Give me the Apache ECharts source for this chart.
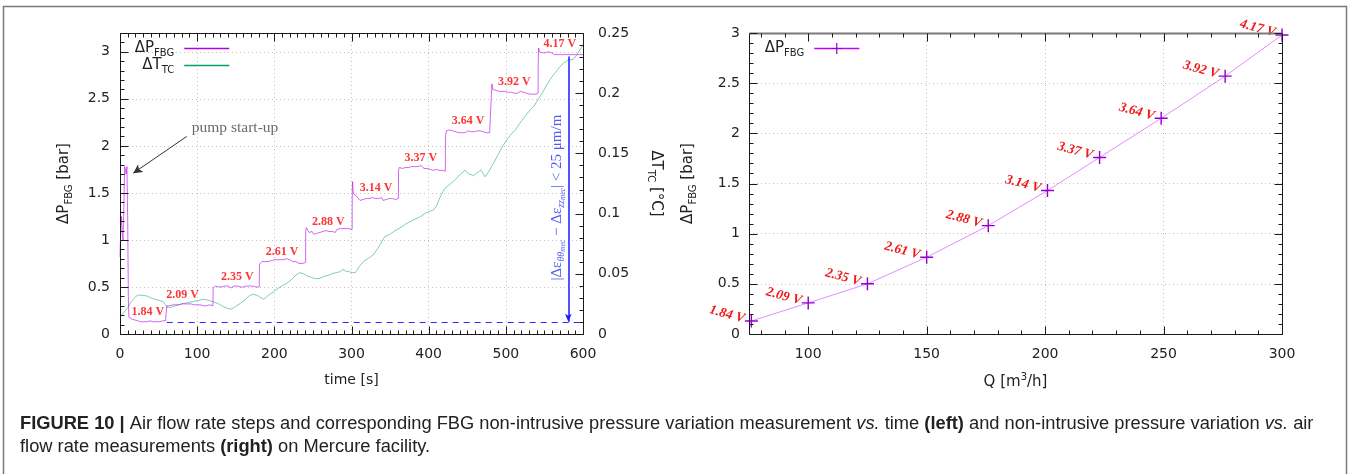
<!DOCTYPE html>
<html><head><meta charset="utf-8">
<script src="https://cdn.jsdelivr.net/npm/echarts@6/dist/echarts.min.js"></script>
<style>html,body{margin:0;padding:0;background:#fff}#c{width:1351px;height:474px}</style>
</head><body><div id="c"></div><script>
// ---------- DATA ----------
const pFbg = [
[0,0.82],[1,1.15],[2,1.25],[3,1.05],[4,1.0],[5,1.35],[6,1.78],[7,1.80],[8,1.70],[9,1.78],[10,1.2],[10.8,0.4],[11.5,0.18],[13,0.17],[15,0.16],[17,0.16],[19,0.15],[21,0.15],[23,0.14],[25,0.15],[27,0.13],[29,0.14],[31,0.13],[33,0.12],[35,0.13],[37,0.12],[39,0.14],[41,0.13],[43,0.13],[45,0.14],[47,0.13],[49,0.14],[51,0.13],[53,0.14],[55,0.14],[57,0.14],[59,0.14],[60.5,0.14],
[60.7,0.30],[62,0.31],[64,0.30],[66,0.32],[68,0.31],[70,0.32],[72,0.31],[74,0.32],[76,0.31],[78,0.33],[80,0.32],[82,0.33],[84,0.32],[86,0.33],[88,0.32],[90,0.34],[92,0.32],[94,0.33],[96,0.31],[98,0.32],[100,0.31],[102,0.32],[104,0.31],[106,0.31],[108,0.30],[110,0.31],[112,0.30],[114,0.30],[116,0.31],[118,0.30],[120.5,0.30],
[120.7,0.49],[122,0.50],[124,0.51],[126,0.50],[128,0.50],[130,0.51],[132,0.50],[134,0.50],[136,0.51],[138,0.50],[140,0.51],[142,0.50],[144,0.49],[146,0.50],[148,0.51],[150,0.50],[152,0.51],[154,0.50],[156,0.50],[158,0.51],[160,0.50],[162,0.52],[164,0.51],[166,0.50],[168,0.51],[170,0.50],[172,0.51],[174,0.50],[176,0.50],[178,0.51],[180.5,0.50],
[180.7,0.74],[182,0.76],[184,0.77],[186,0.78],[188,0.77],[190,0.78],[192,0.77],[194,0.79],[196,0.78],[198,0.77],[200,0.79],[202,0.78],[204,0.79],[206,0.78],[208,0.79],[210,0.78],[212,0.79],[214,0.78],[216,0.80],[218,0.81],[220,0.79],[222,0.78],[224,0.77],[226,0.76],[228,0.77],[230,0.76],[232,0.75],[234,0.76],[236,0.75],[238,0.76],[240.5,0.76],
[240.7,1.10],[241.5,1.13],[243,1.12],[245,1.08],[247,1.07],[249,1.09],[251,1.06],[253,1.08],[255,1.07],[257,1.09],[259,1.08],[261,1.07],[263,1.09],[265,1.08],[267,1.10],[269,1.08],[271,1.09],[273,1.10],[275,1.09],[277,1.10],[279,1.08],[281,1.11],[283,1.10],[285,1.12],[287,1.10],[289,1.12],[291,1.11],[293,1.12],[295,1.11],[297,1.12],[299,1.11],[300.8,1.11],
[301,1.55],[301.5,1.62],[302,1.52],[303,1.49],[305,1.47],[307,1.46],[309,1.44],[311,1.42],[313,1.41],[315,1.43],[317,1.42],[319,1.44],[321,1.42],[323,1.44],[325,1.43],[327,1.45],[329,1.43],[331,1.44],[333,1.42],[335,1.44],[337,1.43],[339,1.45],[341,1.42],[343,1.44],[345,1.43],[347,1.45],[349,1.44],[351,1.46],[353,1.44],[355,1.45],[357,1.43],[359,1.44],[360.8,1.44],
[361,1.74],[362,1.77],[364,1.78],[366,1.76],[368,1.78],[370,1.77],[372,1.78],[374,1.77],[376,1.79],[378,1.78],[380,1.79],[382,1.78],[384,1.79],[386,1.78],[388,1.80],[390,1.79],[392,1.77],[394,1.76],[396,1.78],[398,1.76],[400,1.74],[402,1.75],[404,1.73],[406,1.74],[408,1.73],[410,1.75],[412,1.73],[414,1.74],[416,1.73],[418,1.74],[420,1.73],[421.5,1.73],
[421.8,2.10],[423,2.16],[425,2.18],[427,2.17],[429,2.18],[431,2.16],[433,2.17],[435,2.15],[437,2.16],[439,2.14],[441,2.15],[443,2.14],[445,2.16],[447,2.14],[449,2.15],[451,2.16],[453,2.14],[455,2.15],[457,2.14],[459,2.15],[461,2.14],[463,2.16],[465,2.15],[467,2.16],[469,2.14],[471,2.15],[473,2.13],[475,2.14],[477,2.13],[479,2.14],[481.4,2.13],
[481.6,2.60],[482,2.66],[483,2.60],[485,2.58],[487,2.59],[489,2.57],[491,2.58],[493,2.57],[495,2.58],[497,2.57],[499,2.58],[501,2.56],[503,2.57],[505,2.58],[507,2.57],[509,2.58],[511,2.56],[513,2.57],[515,2.56],[517,2.57],[519,2.58],[521,2.56],[523,2.57],[525,2.55],[527,2.56],[529,2.57],[531,2.55],[533,2.56],[535,2.55],[537,2.56],[539,2.55],[541.8,2.56],
[542,2.90],[542.5,3.04],[543.5,3.00],[545,2.98],[547,2.99],[549,2.98],[551,2.99],[553,2.98],[555,3.00],[557,2.98],[559,2.99],[561,2.98],[563,2.97],[565,2.98],[567,2.97],[569,2.98],[571,2.97],[573,2.98],[575,2.97],[577,2.96],[579,2.97],[581,2.95],[583,2.97],[585,2.98],[587,2.97],[589,2.98],[591,2.97],[593,2.98],[595,2.97],[597,2.98],[599,2.97],[600,2.97]
];
const tTc = [
[0,0.0144],[5,0.018],[10,0.022],[15,0.027],[20,0.031],[24,0.0324],[30,0.032],[35,0.0316],[40,0.030],[45,0.0288],[50,0.028],[56,0.0268],[61,0.0222],[66,0.0222],[72,0.0235],[80,0.025],[87,0.026],[95,0.027],[102,0.028],[108,0.0288],[115,0.028],[121,0.0268],[128,0.025],[134,0.0227],[140,0.021],[145,0.0208],[150,0.023],[156,0.0255],[163,0.029],[168,0.032],[173,0.033],[178,0.032],[186,0.0288],[192,0.032],[199,0.0351],[205,0.038],[210,0.040],[216,0.042],[222,0.045],[228,0.049],[233,0.051],[238,0.050],[243,0.048],[248,0.047],[253,0.046],[259,0.0462],[265,0.048],[271,0.049],[276,0.0504],[281,0.051],[285,0.0517],[289,0.0537],[293,0.052],[297,0.0517],[301,0.051],[305,0.051],[310,0.056],[315,0.060],[322,0.063],[328,0.0656],[335,0.072],[343,0.0808],[350,0.083],[358,0.0864],[365,0.089],[372,0.092],[380,0.0947],[388,0.097],[397,0.1008],[406,0.103],[410,0.106],[415,0.114],[421,0.121],[428,0.1246],[434,0.128],[440,0.132],[447,0.136],[452,0.133],[458,0.1315],[463,0.134],[468,0.136],[473,0.1306],[478,0.135],[484,0.1418],[490,0.149],[495,0.155],[501,0.161],[507,0.166],[513,0.170],[518,0.175],[524,0.180],[530,0.185],[536,0.1888],[542,0.195],[548,0.201],[553,0.2068],[558,0.212],[564,0.217],[570,0.222],[575,0.225],[581,0.2276],[587,0.228],[591,0.231],[596,0.236],[600,0.240]
];
const stepVolts = ['1.84 V','2.09 V','2.35 V','2.61 V','2.88 V','3.14 V','3.37 V','3.64 V','3.92 V','4.17 V'];
const stepLabelTime = [36, 81, 152, 210, 270, 332, 390, 451, 511, 570];
const stepLevel = [0.13, 0.31, 0.50, 0.77, 1.09, 1.45, 1.77, 2.16, 2.57, 2.98];
const pumpArrow = [[86.4, 2.10], [17.2, 1.71]];
const pumpText = [93, 2.19];
const baseLine = [[60.5, 0.13], [600, 0.13]];
const diffArrow = [[581, 2.95], [581, 0.13]];
const diffTextPos = [566, 1.45];
const flowQ = [76, 100, 125, 150, 176, 201, 223, 249, 276, 300];
const flowDP = [0.13, 0.31, 0.50, 0.765, 1.08, 1.43, 1.76, 2.15, 2.57, 2.98];
// tick values / axis extents
const qMajorTicks = [100, 150, 200, 250, 300];
const extL = {x0:0, x1:600, y0:0, y1:3.2};
const extL2 = {x0:0, x1:600, y0:0, y1:0.25};
const extR = {x0:75, x1:300, y0:0, y1:3};

function range(a, b, s){ const o=[]; const n=Math.round((b-a)/s); for(let i=0;i<=n;i++) o.push(+(a+i*s).toFixed(6)); return o; }
const ticksL = [[0,9]];
range(0,600,10).forEach(v=>ticksL.push([v, v%100===0?0:1]));
range(0,3.2,0.1).forEach((v,i)=>ticksL.push([v, i%5===0?2:3]));
const ticksL2 = [];
range(0,0.25,0.01).forEach((v,i)=>ticksL2.push([v, i%5===0?4:5]));
const ticksR = [[0,9]];
range(80,300,10).forEach(v=>ticksR.push([v, v%50===0?0:1]));
range(0,3,0.1).forEach((v,i)=>ticksR.push([v, i%5===0?2:3]));

// ---------- STYLE ----------
const lab = () => ({color:'#222', fontFamily:'DejaVu Sans', fontSize:14});
const gridLine = () => ({type:[1,3], color:'#c4c4c4', width:1});
const richName = {
  a:{fontFamily:'DejaVu Sans', fontSize:15, color:'#222', lineHeight:20},
  s:{fontFamily:'DejaVu Sans', fontSize:10, color:'#222', lineHeight:10, verticalAlign:'bottom'},
  p:{fontFamily:'DejaVu Sans', fontSize:10, color:'#222', lineHeight:10, verticalAlign:'top'}
};
const crossPath = 'path://M0,4.45H10V5.55H0Z M4.45,0H5.55V10H4.45Z';
const noLine = {show:false};
const noTick = {show:false};

function ln(x1, y1, x2, y2, w, c){ return {type:'line', shape:{x1:x1, y1:y1, x2:x2, y2:y2}, style:{stroke:c || '#1a1a1a', lineWidth:w, fill:'none'}}; }

function tickRender(ext, opt){
  return function(params, api){
    const v = api.value(0), k = api.value(1);
    const r = a => Math.round(a) + 0.5;
    if (k === 9) {
      const p0 = api.coord([ext.x0, ext.y1]), p1 = api.coord([ext.x1, ext.y0]);
      const x0 = r(p0[0]), y0 = r(p0[1]), x1 = r(p1[0]), y1 = r(p1[1]);
      return {type:'group', children:[
        ln(x0, y1, x1, y1, 1),
        ln(x0, y0, x0, y1, 1),
        ln(x1, y0, x1, y1, 1),
        opt.grayTop ? ln(x0, y0, x1, y0, 2.2, '#7a7a7a') : ln(x0, y0, x1, y0, 1)
      ]};
    }
    const W = 1;
    const len = (k % 2 === 0) ? 8 : 4;
    const kids = [];
    if (k < 2) {
      const b = api.coord([v, ext.y0]), t = api.coord([v, ext.y1]);
      const x = r(b[0]);
      kids.push(ln(x, r(b[1]), x, r(b[1]) - len, W));
      kids.push(ln(x, r(t[1]), x, r(t[1]) + len, W));
    } else if (k < 4) {
      const p = api.coord([ext.x0, v]), q = api.coord([ext.x1, v]);
      const y = r(p[1]);
      kids.push(ln(r(p[0]), y, r(p[0]) + len, y, W));
      if (opt.mirrorY) kids.push(ln(r(q[0]), y, r(q[0]) - len, y, W));
    } else {
      const q = api.coord([ext.x1, v]);
      const y = r(q[1]);
      const l = (k === 4) ? 8 : 4;
      kids.push(ln(r(q[0]), y, r(q[0]) - l, y, W));
    }
    return {type:'group', children:kids};
  };
}
function tickSeries(name, xi, yi, data, ext, opt){
  return {name:name, type:'custom', xAxisIndex:xi, yAxisIndex:yi, data:data, clip:false, silent:true, z:6,
    encode:{x:0, y:1}, renderItem:tickRender(ext, opt)};
}

const legendBase = {align:'right', itemWidth:45, itemHeight:14, padding:0, selectedMode:false,
  textStyle:{rich:richName, padding:[0,5,0,0]}, lineStyle:{opacity:1, width:1.5}};
const capFont = 'Liberation Sans', capSize = 18.3;

const chart = echarts.init(document.getElementById('c'), null, {renderer:'canvas'});
chart.setOption({
  animation:false,
  grid:[{left:120, right:768, top:33, bottom:140}, {left:749, right:69, top:33, bottom:140}],
  legend:[
    Object.assign({data:['pL'], right:1121, top:41, formatter:()=>'{a|ΔP}{s|FBG}', itemStyle:{opacity:0}}, legendBase),
    Object.assign({data:['tL'], right:1121, top:58, formatter:()=>'{a|ΔT}{s|TC}', itemStyle:{opacity:0}}, legendBase),
    Object.assign({data:['pR'], right:491, top:41, formatter:()=>'{a|ΔP}{s|FBG}'}, legendBase)
  ],
  xAxis:[
    {type:'value', gridIndex:0, position:'bottom', min:extL.x0, max:extL.x1, interval:100, axisLine:noLine, axisTick:noTick,
      axisLabel:Object.assign({show:true, margin:13}, lab()), splitLine:{show:true, showMinLine:false, showMaxLine:false, lineStyle:gridLine()},
      name:'time [s]', nameLocation:'middle', nameGap:39, nameTextStyle:lab()},
    {type:'value', gridIndex:1, position:'bottom', min:extR.x0, max:extR.x1, axisLine:noLine, axisTick:{show:false, customValues:qMajorTicks},
      axisLabel:Object.assign({show:true, margin:13, customValues:qMajorTicks}, lab()), splitLine:{show:true, showMinLine:false, showMaxLine:false, lineStyle:gridLine()},
      name:'{a|Q [m}{p|3}{a|/h]}', nameLocation:'middle', nameGap:38, nameTextStyle:{rich:richName}}
  ],
  yAxis:[
    {type:'value', gridIndex:0, position:'left', min:extL.y0, max:extL.y1, interval:0.5, axisLine:noLine, axisTick:noTick,
      axisLabel:Object.assign({show:true, margin:10, showMaxLabel:false}, lab()),
      splitLine:{show:true, showMinLine:false, showMaxLine:false, lineStyle:gridLine()},
      name:'{a|ΔP}{s|FBG}{a| [bar]}', nameLocation:'middle', nameGap:46, nameRotate:90, nameTextStyle:{rich:richName}},
    {type:'value', gridIndex:0, position:'right', min:extL2.y0, max:extL2.y1, interval:0.05, axisLine:noLine, axisTick:noTick,
      axisLabel:Object.assign({show:true, margin:15}, lab()), splitLine:{show:false},
      name:'{a|ΔT}{s|TC}{a| [°C]}', nameLocation:'middle', nameGap:63, nameRotate:-90, nameTextStyle:{rich:richName}},
    {type:'value', gridIndex:1, position:'left', min:extR.y0, max:extR.y1, interval:0.5, axisLine:noLine, axisTick:noTick,
      axisLabel:Object.assign({show:true, margin:9}, lab()), splitLine:{show:true, showMinLine:false, showMaxLine:false, lineStyle:gridLine()},
      name:'{a|ΔP}{s|FBG}{a| [bar]}', nameLocation:'middle', nameGap:51, nameRotate:90, nameTextStyle:{rich:richName}}
  ],
  series:[
    {name:'pL', type:'line', xAxisIndex:0, yAxisIndex:0, data:pFbg, symbol:'none', showSymbol:false, color:'#b400e6',
      lineStyle:{color:'#b400e6', width:1, opacity:0.6}, z:3,
      markLine:{silent:true, animation:false, label:{show:false}, symbol:['none','none'],
        data:[
          [{coord:pumpArrow[0], symbol:'none', lineStyle:{color:'#333', width:1, type:'solid', opacity:1}}, {coord:pumpArrow[1], symbol:'arrow', symbolSize:[7,9]}],
          [{coord:baseLine[0], symbol:'none', lineStyle:{color:'#2a2aff', width:1.2, type:[6,5], opacity:1}}, {coord:baseLine[1], symbol:'none'}],
          [{coord:diffArrow[0], symbol:'none', lineStyle:{color:'#1a1aff', width:1.5, type:'solid', opacity:1}}, {coord:diffArrow[1], symbol:'arrow', symbolSize:[5,8]}]
        ]}},
    {name:'tL', type:'line', xAxisIndex:0, yAxisIndex:1, data:tTc, symbol:'none', showSymbol:false, color:'#009e73',
      lineStyle:{color:'#009e73', width:1, opacity:0.5}, z:2},
    {name:'stepLabels', type:'scatter', xAxisIndex:0, yAxisIndex:0, symbolSize:0, z:5,
      data:stepLabelTime.map((t,i)=>[t, stepLevel[i]]),
      label:{show:true, position:'top', distance:4, formatter:p=>stepVolts[p.dataIndex], color:'#f00', fontFamily:'Liberation Serif', fontWeight:'bold', fontSize:12}},
    {name:'pumpNote', type:'scatter', xAxisIndex:0, yAxisIndex:0, symbolSize:0, z:5, data:[pumpText],
      label:{show:true, position:'right', distance:0, formatter:'pump start-up', color:'#444', fontFamily:'Liberation Serif', fontSize:15.5}},
    {name:'diffNote', type:'scatter', xAxisIndex:0, yAxisIndex:0, symbolSize:0, z:5, data:[diffTextPos],
      label:{show:true, position:'inside', rotate:90,
        formatter:'{m||Δε}{s|θθ}{t|mec}{m| − Δε}{s|zz}{t|mec}{m|| < 25 μm/m}',
        rich:{
          m:{fontFamily:'Liberation Serif', fontSize:15, color:'#2233ee', lineHeight:20},
          s:{fontFamily:'Liberation Serif', fontStyle:'italic', fontSize:10, color:'#2233ee', lineHeight:10, verticalAlign:'bottom'},
          t:{fontFamily:'Liberation Serif', fontStyle:'italic', fontSize:7.5, color:'#2233ee', lineHeight:4, verticalAlign:'bottom'}
        }}},
    {name:'pR', type:'line', xAxisIndex:1, yAxisIndex:2, data:flowQ.map((q,i)=>[q, flowDP[i]]),
      symbol:crossPath, symbolSize:13, showSymbol:true, color:'#9400d3',
      itemStyle:{color:'#9400d3'}, lineStyle:{color:'#c000ff', width:1, opacity:0.45}, z:4,
      label:{show:true, position:'left', distance:1, offset:[0,-2], rotate:-15, formatter:p=>stepVolts[p.dataIndex],
        color:'#f01818', fontFamily:'Liberation Serif', fontStyle:'italic', fontWeight:'bold', fontSize:13.5}},
    tickSeries('ticksL', 0, 0, ticksL, extL, {mirrorY:false}),
    tickSeries('ticksL2', 0, 1, ticksL2, extL2, {}),
    tickSeries('ticksR', 1, 2, ticksR, extR, {mirrorY:true, grayTop:true})
  ],
  graphic:[
    {type:'rect', shape:{x:3.5, y:6.5, width:1343, height:520}, style:{fill:'none', stroke:'#7a7a7a', lineWidth:1.5}, silent:true, z:-1},
    {type:'text', x:20, y:424, style:{text:'{b|FIGURE 10 | }{n|Air flow rate steps and corresponding FBG non-intrusive pressure variation measurement }{i|vs.}{n| time }{b|(left)}{n| and non-intrusive pressure variation }{i|vs.}{n| air}',
      verticalAlign:'middle', rich:{
        b:{fontFamily:capFont, fontWeight:'bold', fontSize:capSize, fill:'#222'},
        n:{fontFamily:capFont, fontSize:capSize, fill:'#222'},
        i:{fontFamily:capFont, fontStyle:'italic', fontSize:capSize, fill:'#222'}}}},
    {type:'text', x:20, y:447, style:{text:'{n|flow rate measurements }{b|(right)}{n| on Mercure facility.}',
      verticalAlign:'middle', rich:{
        b:{fontFamily:capFont, fontWeight:'bold', fontSize:capSize, fill:'#222'},
        n:{fontFamily:capFont, fontSize:capSize, fill:'#222'}}}}
  ]
});
</script></body></html>
